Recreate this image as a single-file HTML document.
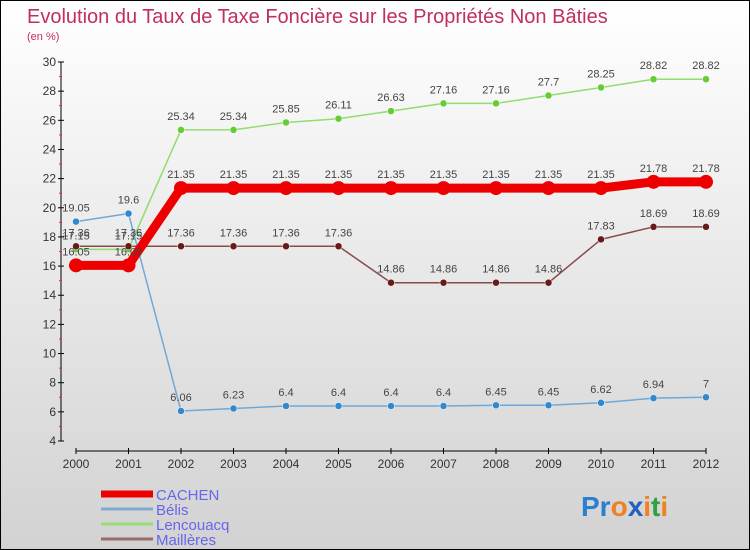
<!DOCTYPE html>
<html><head><meta charset="utf-8"><style>
body{margin:0}
#wrap{position:relative;width:748px;height:548px;border:1px solid #000;background:linear-gradient(#fff 0%,#e8e8e8 50%,#d2d2d2 100%);font-family:"Liberation Sans",sans-serif;overflow:hidden}
</style></head><body>
<div id="wrap">
<svg id="svg" width="748" height="548" style="position:absolute;left:0;top:0">
<text x="26" y="22" font-size="20" fill="#c0305a">Evolution du Taux de Taxe Foncière sur les Propriétés Non Bâties</text>
<text x="26" y="39" font-size="11" fill="#c0305a">(en %)</text>
<g id="axes"></g><g id="series"></g><g id="legend"></g>
<text x="580" y="515" font-size="28" font-weight="bold"><tspan fill="#2a7fd0">Pr</tspan><tspan fill="#f08020">o</tspan><tspan fill="#2060c0">x</tspan><tspan fill="#f08020">i</tspan><tspan fill="#30a040">t</tspan><tspan fill="#f08020">i</tspan></text>
</svg></div>
<script>
const years=[2000,2001,2002,2003,2004,2005,2006,2007,2008,2009,2010,2011,2012];
const cachen=[16.05,16.05,21.35,21.35,21.35,21.35,21.35,21.35,21.35,21.35,21.35,21.78,21.78];
const belis=[19.05,19.6,6.06,6.23,6.4,6.4,6.4,6.4,6.45,6.45,6.62,6.94,7];
const lencouacq=[17.15,17.15,25.34,25.34,25.85,26.11,26.63,27.16,27.16,27.7,28.25,28.82,28.82];
const mailleres=[17.36,17.36,17.36,17.36,17.36,17.36,14.86,14.86,14.86,14.86,17.83,18.69,18.69];
const yTicks=[4,6,8,10,12,14,16,18,20,22,24,26,28,30];
const NS="http://www.w3.org/2000/svg";
const X=i=>75+i*52.5, Y=v=>440-(v-4)*(379/26);
function mk(p,t,a){const e=document.createElementNS(NS,t);for(const k in a)e.setAttribute(k,a[k]);p.appendChild(e);return e;}
const ax=document.getElementById('axes');
let l=mk(ax,'line',{x1:60,y1:Y(30),x2:60,y2:Y(4),stroke:'#000'});

l=mk(ax,'line',{x1:75,y1:450,x2:705,y2:450,stroke:'#000'});

yTicks.forEach(v=>{mk(ax,'line',{x1:57,x2:63,y1:Y(v),y2:Y(v),stroke:'#000'});
 if(v<30)mk(ax,'line',{x1:58,x2:61,y1:Y(v+1),y2:Y(v+1),stroke:'#e03030'});
 const t=mk(ax,'text',{x:55,y:Y(v)+4,'font-size':12,'text-anchor':'end',fill:'#333'});t.textContent=v;
 });
years.forEach((y,i)=>{mk(ax,'line',{x1:X(i),x2:X(i),y1:447,y2:453,stroke:'#000'});
 const t=mk(ax,'text',{x:X(i),y:467,'font-size':12,'text-anchor':'middle',fill:'#333'});t.textContent=y;
 });
const series=[
 {n:'lencouacq',d:lencouacq,c:'#90dd70',f:'#66cc33',w:1.5,r:3.5},
 {n:'belis',d:belis,c:'#70a8d8',f:'#3388cc',w:1.5,r:3.5},
 {n:'mailleres',d:mailleres,c:'#8a4a4a',f:'#661a1a',w:1.5,r:3.5},
 {n:'cachen',d:cachen,c:'#ee0000',f:'#ee0000',w:9,r:7}];
const sg=document.getElementById('series');
series.forEach(s=>{
 const g=mk(sg,'g',{});
 const p=mk(g,'polyline',{points:s.d.map((v,i)=>X(i)+','+Y(v)).join(' '),fill:'none',stroke:s.c,'stroke-width':s.w});
 
 s.d.forEach((v,i)=>{const c=mk(g,'circle',{cx:X(i),cy:Y(v),r:s.r,fill:s.f,stroke:s.n=='cachen'?'none':'#fff','stroke-width':0.5});
  
  const t=mk(g,'text',{x:X(i),y:Y(v)-10,'font-size':11,'text-anchor':'middle',fill:'#444'});t.textContent=v;
  });
});
const lg=document.getElementById('legend');
[['CACHEN','#ee0000',7],['Bélis','#80aad0',3],['Lencouacq','#99dd77',3],['Maillères','#9a6a6a',3]].forEach((e,i)=>{
 const y=493+i*15;
 const g=mk(lg,'g',{});
 mk(g,'line',{x1:100,x2:152,y1:y,y2:y,stroke:e[1],'stroke-width':e[2]});
 const t=mk(g,'text',{x:155,y:y+6,'font-size':15,fill:'#6666ee'});t.textContent=e[0];
});
</script>
</body></html>
